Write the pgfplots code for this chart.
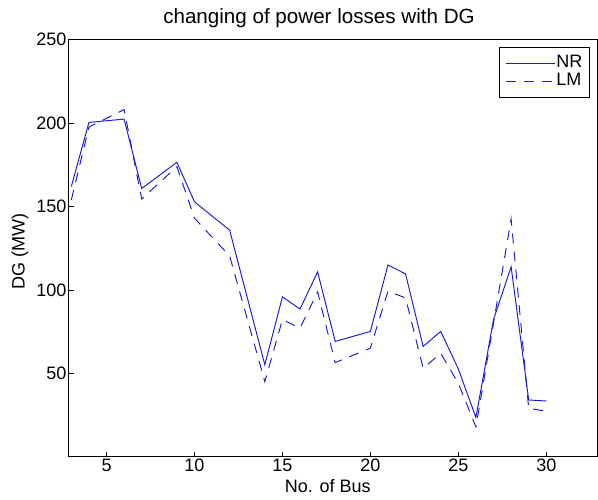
\documentclass[border=0pt]{standalone}
\usepackage{fontspec}
\setmainfont{Liberation Sans}
\usepackage{pgfplots}
\pgfplotsset{compat=1.18}
\definecolor{lineblue}{RGB}{25,25,205}

\pgfplotstableread{
x   y
3   162
4   200.4
6   202.4
7   160.8
9   176.5
10  152.8
12  135.8
14  55.1
15  95.8
16  88.5
17  110.8
18  69.1
20  75.1
21  114.9
22  109.6
23  66.1
24  75.1
25  52.6
26  23.5
27  82.2
28  113.9
29  34
30  33.4
}\nrdata

\pgfplotstableread{
x   y
3   154
4   197.6
6   208.1
7   154.5
9   173.9
10  143
12  120.3
14  45
15  82.2
16  77.1
17  98.8
18  56.4
20  65.1
21  99.2
22  95.2
23  53
24  62
25  44
26  17.9
27  80.1
28  142.5
29  29
30  27.3
}\lmdata

\begin{document}
\fontsize{18bp}{21bp}\selectfont
\begin{tikzpicture}
\begin{axis}[
    scale only axis,
    width=528.6bp, height=417bp,
    xmin=2.85, xmax=32.9,
    ymin=0, ymax=250,
    xtick={5,10,...,30},
    ytick={50,100,...,250},
    tick align=inside,
    xtick pos=lower, ytick pos=left,
    major tick length=5bp,
    axis line style={line width=1bp},
    tick style={line width=0.8bp, black},
    /pgf/number format/assume math mode=true,
    tick label style={font=\fontsize{18bp}{21bp}\selectfont},
    yticklabel style={inner sep=2bp},
    xticklabel style={inner sep=2bp},
    label style={font=\fontsize{18bp}{21bp}\selectfont},
    title style={font=\fontsize{20.6bp}{24bp}\selectfont, at={(0.4735,1)}},
    title={changing of power losses with DG},
    xlabel={No. of Bus},
    ylabel={DG (MW)},
    xlabel style={at={(ticklabel cs:0.49)}},
    ylabel style={at={(ticklabel cs:0.493)}},
    legend style={at={(1,1)}, anchor=north east, xshift=-7.3bp, yshift=-7.6bp,
        draw, line width=0.8bp, inner xsep=6bp, inner ysep=6.5bp,
        font=\fontsize{18bp}{21bp}\selectfont,
        nodes={inner sep=1.2bp, text height=12bp, text depth=4bp}, row sep=0bp},
    legend cell align=left,
    legend image code/.code={\draw[#1, draw=lineblue, line width=0.9bp] (0bp,0bp) -- (49bp,0bp);},
]
\addplot[lineblue, line width=0.95bp] table[x=x, y=y] {\nrdata};
\addlegendentry{NR}
\addplot[lineblue, line width=0.95bp, dash pattern=on 10bp off 8bp] table[x=x, y=y] {\lmdata};
\addlegendentry{LM}
\end{axis}
\path (current axis.south west) ++(-68.7bp,-43.3bp) rectangle ++(598bp,500bp);
\end{tikzpicture}
\end{document}
